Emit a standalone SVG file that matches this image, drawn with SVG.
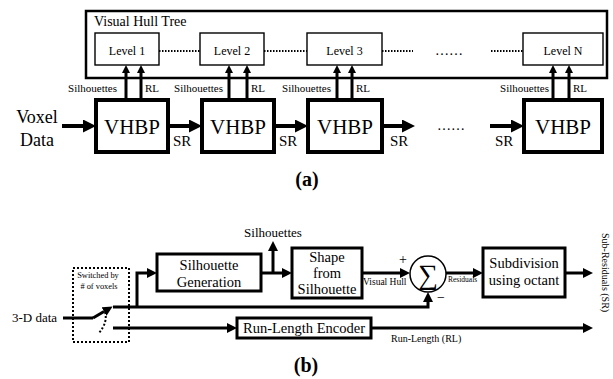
<svg xmlns="http://www.w3.org/2000/svg" width="613" height="379" viewBox="0 0 613 379" font-family="'Liberation Serif', 'DejaVu Serif', serif">
<defs>
<style>
text{font-family:'Liberation Serif','DejaVu Serif',serif;fill:#000}
.c{text-anchor:middle}
.r{text-anchor:end}
.thin{fill:#fff;stroke:#000;stroke-width:1.4}
.vh{fill:#fff;stroke:#000;stroke-width:4}
.bx{fill:#fff;stroke:#000;stroke-width:3}
.ln4{fill:none;stroke:#000;stroke-width:4}
.ln3{fill:none;stroke:#000;stroke-width:3}
.dot{fill:none;stroke:#000;stroke-width:2;stroke-dasharray:1.5 1.5}
</style>
<marker id="ha" markerUnits="userSpaceOnUse" viewBox="0 0 13 13" markerWidth="13" markerHeight="13" refX="0" refY="6.5" orient="auto"><path d="M0,0L13,6.5L0,13z"/></marker>
<marker id="hu" markerUnits="userSpaceOnUse" viewBox="0 0 8 8" markerWidth="8" markerHeight="8" refX="0" refY="4" orient="auto"><path d="M0,0L8,4L0,8z"/></marker>
<marker id="hb" markerUnits="userSpaceOnUse" viewBox="0 0 10 10" markerWidth="10" markerHeight="10" refX="0" refY="5" orient="auto"><path d="M0,0L10,5L0,10z"/></marker>
</defs>

<!-- (a) -->
<g id="tree">
<rect x="86" y="11" width="521" height="67" fill="#fff" stroke="#000" stroke-width="2.5"/>
<text x="94" y="26" font-size="14">Visual Hull Tree</text>
</g>
<g id="level1"><rect class="thin" x="95" y="33" width="64" height="32"/><text class="c" x="127" y="55" font-size="12">Level 1</text></g>
<g id="level2"><rect class="thin" x="200" y="33" width="64" height="32"/><text class="c" x="232" y="55" font-size="12">Level 2</text></g>
<g id="level3"><rect class="thin" x="307" y="33" width="75" height="32"/><text class="c" x="344.5" y="55" font-size="12">Level 3</text></g>
<g id="levelN"><rect class="thin" x="523" y="33" width="80" height="32"/><text class="c" x="563" y="55" font-size="12">Level N</text></g>

<g id="vhbp1"><rect class="vh" x="96" y="100" width="72" height="52"/><text class="c" x="132" y="134" font-size="21">VHBP</text></g>
<g id="vhbp2"><rect class="vh" x="202" y="100" width="72" height="52"/><text class="c" x="238" y="134" font-size="21">VHBP</text></g>
<g id="vhbp3"><rect class="vh" x="308" y="100" width="74" height="52"/><text class="c" x="345" y="134" font-size="21">VHBP</text></g>
<g id="vhbpN"><rect class="vh" x="524" y="100" width="78" height="52"/><text class="c" x="563" y="134" font-size="21">VHBP</text></g>

<g id="voxel"><text class="c" x="37" y="123" font-size="18">Voxel</text><text class="c" x="37" y="146" font-size="18">Data</text></g>

<g id="connectors-a">
<path class="dot" d="M159,51H200M264,51H307M382,51H413M491,51H523"/>
<text x="435" y="55" font-size="14">……</text>
<text x="437" y="130" font-size="14">……</text>
<path class="ln4" d="M62,126H83" marker-end="url(#ha)"/>
<path class="ln4" d="M168,126H189" marker-end="url(#ha)"/>
<path class="ln4" d="M274,126H295" marker-end="url(#ha)"/>
<path class="ln4" d="M382,126H402" marker-end="url(#ha)"/>
<path class="ln4" d="M490,126H511" marker-end="url(#ha)"/>
<g font-size="15"><text x="173" y="146">SR</text><text x="279" y="146">SR</text><text x="390" y="146">SR</text><text x="495" y="146">SR</text></g>
<path class="ln3" d="M126,98V73" marker-end="url(#hu)"/>
<path class="ln3" d="M141,98V73" marker-end="url(#hu)"/>
<path class="ln3" d="M229,98V73" marker-end="url(#hu)"/>
<path class="ln3" d="M247,98V73" marker-end="url(#hu)"/>
<path class="ln3" d="M337,98V73" marker-end="url(#hu)"/>
<path class="ln3" d="M352,98V73" marker-end="url(#hu)"/>
<path class="ln3" d="M553,98V73" marker-end="url(#hu)"/>
<path class="ln3" d="M569,98V73" marker-end="url(#hu)"/>
<g font-size="11">
<text class="r" x="117" y="92">Silhouettes</text><text x="145" y="92">RL</text>
<text class="r" x="223" y="92">Silhouettes</text><text x="251" y="92">RL</text>
<text class="r" x="331" y="92">Silhouettes</text><text x="356" y="92">RL</text>
<text class="r" x="549" y="92">Silhouettes</text><text x="573" y="92">RL</text>
</g>
</g>
<text class="c" x="307" y="186" font-size="20" font-weight="bold">(a)</text>

<!-- (b) -->
<g id="switch">
<rect x="73" y="268" width="56" height="74" fill="none" stroke="#000" stroke-width="2" stroke-dasharray="2 2"/>
<text class="c" x="98" y="278" font-size="8.4">Switched by</text>
<text class="c" x="99" y="289" font-size="8.4"># of voxels</text>
</g>
<g id="input"><text x="12" y="322" font-size="13">3-D data</text></g>
<g id="silgen"><rect class="bx" x="157" y="254" width="104" height="37"/><text class="c" x="209" y="270" font-size="14.5">Silhouette</text><text class="c" x="209" y="287" font-size="14.5">Generation</text></g>
<g id="sfs"><rect class="bx" x="292" y="248" width="70" height="50"/><text class="c" x="327" y="262" font-size="14.5">Shape</text><text class="c" x="327" y="278" font-size="14.5">from</text><text class="c" x="327" y="294" font-size="14.5">Silhouette</text></g>
<g id="sum"><circle cx="428" cy="274" r="18" fill="#fff" stroke="#000" stroke-width="1.5"/><text class="c" x="428" y="284" font-size="28">∑</text></g>
<g id="subdiv"><rect class="bx" x="483" y="248" width="82" height="49"/><text class="c" x="524" y="268" font-size="14.5">Subdivision</text><text class="c" x="524" y="285" font-size="14.5">using octant</text></g>
<g id="rle"><rect class="bx" x="237" y="318" width="134" height="20"/><text class="c" x="304" y="333" font-size="14.5">Run-Length Encoder</text></g>

<g id="connectors-b">
<path class="ln3" d="M63,318H93"/>
<path class="ln3" d="M93,318L104,311.5" marker-end="url(#hb)"/>
<path fill="none" stroke="#000" stroke-width="2" stroke-dasharray="2 2" d="M105,312Q108,322 99,333"/>
<path class="ln3" d="M113,307H428V302" marker-end="url(#hb)"/>
<path class="ln3" d="M137,307V273H147" marker-end="url(#hb)"/>
<path class="ln3" d="M261,273H282" marker-end="url(#hb)"/>
<path class="ln3" d="M273,273V251" marker-end="url(#hb)"/>
<path class="ln3" d="M362,273H400" marker-end="url(#hb)"/>
<path class="ln3" d="M446,273H473" marker-end="url(#hb)"/>
<path class="ln3" d="M565,273H583" marker-end="url(#hb)"/>
<path class="ln3" d="M113,328H227" marker-end="url(#hb)"/>
<path class="ln3" d="M371,328H583" marker-end="url(#hb)"/>
<text class="c" x="273" y="237" font-size="13">Silhouettes</text>
<text x="363" y="285" font-size="9.5">Visual Hull</text>
<text x="448" y="282" font-size="7.5">Residuals</text>
<text x="399" y="264" font-size="14">+</text>
<text x="437" y="302" font-size="14">−</text>
<text x="391" y="342" font-size="10">Run-Length (RL)</text>
<text x="599" y="233" font-size="10" transform="rotate(90 599 233)" dy="-3">Sub-Residuals (SR)</text>
</g>
<text class="c" x="306" y="372" font-size="20" font-weight="bold">(b)</text>
</svg>
